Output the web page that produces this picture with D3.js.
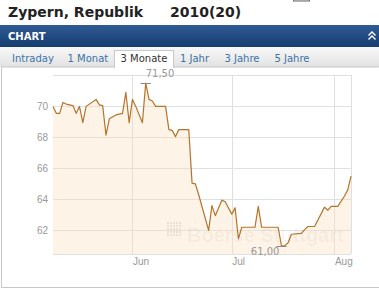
<!DOCTYPE html>
<html>
<head>
<meta charset="utf-8">
<script src="https://cdn.jsdelivr.net/npm/d3@7"></script>
<style>
  body { margin: 0; background: #fff; }
  svg { display: block; font-family: 'DejaVu Sans', Verdana, sans-serif; }
</style>
</head>
<body>
<div id="chart"></div>
<script>
// Kursdaten (gelesen aus dem Bild)
var dates = ['2010-05-08', '2010-05-09', '2010-05-10', '2010-05-11', '2010-05-12', '2010-05-14',
  '2010-05-15', '2010-05-16', '2010-05-17', '2010-05-18', '2010-05-21', '2010-05-22', '2010-05-23',
  '2010-05-24', '2010-05-25', '2010-05-27', '2010-05-29', '2010-05-30', '2010-05-31', '2010-06-01',
  '2010-06-02', '2010-06-04', '2010-06-05', '2010-06-06', '2010-06-07', '2010-06-08', '2010-06-11',
  '2010-06-12', '2010-06-13', '2010-06-14', '2010-06-15', '2010-06-18', '2010-06-19', '2010-06-20',
  '2010-06-21', '2010-06-24', '2010-06-25', '2010-06-26', '2010-06-28', '2010-06-29', '2010-07-01',
  '2010-07-02', '2010-07-03', '2010-07-04', '2010-07-08', '2010-07-09', '2010-07-10', '2010-07-15',
  '2010-07-16', '2010-07-17', '2010-07-18', '2010-07-19', '2010-07-22', '2010-07-23', '2010-07-24',
  '2010-07-26', '2010-07-29', '2010-07-30', '2010-07-31', '2010-08-02', '2010-08-04', '2010-08-05',
  '2010-08-06'];
var prices = [70.0, 69.55, 69.55, 70.25, 70.15, 70.05,
  69.55, 70.0, 68.95, 70.0, 70.45, 70.1, 70.05,
  68.15, 69.2, 69.45, 69.55, 70.9, 68.95, 70.45,
  70.0, 68.95, 71.5, 70.45, 70.35, 70.0, 70.0,
  68.5, 68.45, 68.05, 68.5, 68.5, 65.05, 65.0,
  64.3, 62.0, 63.6, 62.95, 63.95, 63.85, 63.05,
  63.45, 61.45, 62.2, 62.2, 63.55, 62.2, 62.2,
  61.0, 61.0, 61.2, 61.75, 61.8, 62.05, 62.25,
  62.25, 63.5, 63.3, 63.55, 63.55, 64.2, 64.6,
  65.5];
var yTicks = [62, 64, 66, 68, 70];
var tabs = ['Intraday', '1 Monat', '3 Monate', '1 Jahr', '3 Jahre', '5 Jahre'];
var activeTab = '3 Monate';
var title = 'Zypern, Republik';
var subtitle = '2010(20)';

var width = 379, height = 293;
var plot = { left: 53, right: 351, top: 75, bottom: 254 };

var parse = d3.utcParse('%Y-%m-%d');
var data = dates.map(function(d, i) {
  return { date: parse(d), value: prices[i] };
});

var svg = d3.select('#chart').append('svg')
  .attr('width', width)
  .attr('height', height);

var defs = svg.append('defs');
var gHead = defs.append('linearGradient').attr('id', 'head').attr('x1', 0).attr('x2', 0).attr('y1', 0).attr('y2', 1);
gHead.append('stop').attr('offset', '0%').attr('stop-color', '#2f5b94');
gHead.append('stop').attr('offset', '100%').attr('stop-color', '#163c70');
var gTab = defs.append('linearGradient').attr('id', 'tabbar').attr('x1', 0).attr('x2', 0).attr('y1', 0).attr('y2', 1);
gTab.append('stop').attr('offset', '0%').attr('stop-color', '#f8f8f8');
gTab.append('stop').attr('offset', '100%').attr('stop-color', '#e2e2e2');

// Titel
svg.append('text')
  .attr('x', 8).attr('y', 17)
  .attr('font-size', 14).attr('font-weight', 'bold').attr('fill', '#222')
  .text(title);
svg.append('text')
  .attr('x', 170).attr('y', 17)
  .attr('font-size', 14).attr('font-weight', 'bold').attr('fill', '#222')
  .text(subtitle);
// abgeschnittenes Icon oben rechts
svg.append('rect')
  .attr('x', 293.5).attr('y', -4).attr('width', 16).attr('height', 5)
  .attr('fill', '#e8e8e8').attr('stroke', '#666');

// Kopfzeile CHART
svg.append('rect')
  .attr('x', 0).attr('y', 25).attr('width', width).attr('height', 22)
  .attr('fill', 'url(#head)');
svg.append('text')
  .attr('x', 8).attr('y', 40)
  .attr('font-size', 10).attr('font-weight', 'bold').attr('fill', '#fff')
  .text('CHART');
svg.append('path')
  .attr('d', 'M368.5,35.5L372,32L375.5,35.5M368.5,39.5L372,36L375.5,39.5')
  .attr('fill', 'none').attr('stroke', '#fff').attr('stroke-width', 1.4);

// Reiter
svg.append('rect')
  .attr('x', 0).attr('y', 47).attr('width', width).attr('height', 20)
  .attr('fill', 'url(#tabbar)');

// Panel
svg.append('rect')
  .attr('x', 1.5).attr('y', 67).attr('width', 400).attr('height', 220.5)
  .attr('fill', '#fff').attr('stroke', '#c8c8c8');

var tabX = [12, 67.5, 120.5, 180, 224.5, 274.5];
var tabG = svg.append('g');
tabG.selectAll('rect')
  .data(tabs.filter(function(t) { return t === activeTab; }))
  .enter().append('rect')
  .attr('x', 114.5).attr('y', 50.5).attr('width', 59).attr('height', 17)
  .attr('fill', '#fff').attr('stroke', '#c8c8c8');
tabG.append('rect')
  .attr('x', 115).attr('y', 66).attr('width', 58).attr('height', 2)
  .attr('fill', '#fff');
tabG.selectAll('text')
  .data(tabs)
  .enter().append('text')
  .attr('x', function(d, i) { return tabX[i]; })
  .attr('y', 61.5)
  .attr('font-size', 10)
  .attr('fill', function(d) { return d === activeTab ? '#333' : '#3a73a9'; })
  .text(function(d) { return d; });

// Skalen
var x = d3.scaleTime()
  .domain(d3.extent(data, function(d) { return d.date; }))
  .range([plot.left, plot.right]);
var vMin = d3.min(prices), vMax = d3.max(prices);
var pad = (vMax - vMin) * 0.05;
var y = d3.scaleLinear()
  .domain([vMin - pad, vMax + pad])
  .range([plot.bottom, plot.top]);
var months = x.ticks(d3.utcMonth.every(1));

// Gitter
var grid = svg.append('g').attr('stroke', '#e0e0e0').attr('shape-rendering', 'crispEdges');
grid.selectAll('.hy')
  .data(yTicks)
  .enter().append('line')
  .attr('x1', plot.left).attr('x2', plot.right)
  .attr('y1', function(d) { return Math.round(y(d)) + 0.5; })
  .attr('y2', function(d) { return Math.round(y(d)) + 0.5; });
grid.selectAll('.vx')
  .data(months)
  .enter().append('line')
  .attr('y1', plot.top).attr('y2', plot.bottom)
  .attr('x1', function(d) { return Math.round(x(d)) + 0.5; })
  .attr('x2', function(d) { return Math.round(x(d)) + 0.5; });
grid.append('line').attr('x1', plot.left).attr('x2', plot.right).attr('y1', plot.top + 0.5).attr('y2', plot.top + 0.5);
grid.append('line').attr('x1', plot.left).attr('x2', plot.right).attr('y1', plot.bottom + 0.5).attr('y2', plot.bottom + 0.5);
grid.append('line').attr('x1', plot.right + 0.5).attr('x2', plot.right + 0.5).attr('y1', plot.top).attr('y2', plot.bottom);

// Flaeche + Linie
var area = d3.area()
  .x(function(d) { return x(d.date); })
  .y0(plot.bottom)
  .y1(function(d) { return y(d.value); });
var line = d3.line()
  .x(function(d) { return x(d.date); })
  .y(function(d) { return y(d.value); });

svg.append('path')
  .datum(data)
  .attr('d', area)
  .attr('fill', 'rgb(250,222,186)')
  .attr('fill-opacity', 0.35);

// Wasserzeichen
var wm = svg.append('g').attr('fill', '#000');
var dots = d3.range(25);
wm.selectAll('rect')
  .data(dots)
  .enter().append('rect')
  .attr('x', function(d) { return 167 + (d % 5) * 3; })
  .attr('y', function(d) { return 222 + Math.floor(d / 5) * 3; })
  .attr('width', 2).attr('height', 2)
  .attr('fill-opacity', 0.07);
wm.append('text')
  .attr('x', 187).attr('y', 242)
  .attr('font-family', 'Liberation Sans, Arial, sans-serif')
  .attr('font-size', 20).attr('font-weight', 'bold')
  .attr('fill-opacity', 0.045)
  .text('Boerse Stuttgart');

svg.append('path')
  .datum(data)
  .attr('d', line)
  .attr('fill', 'none')
  .attr('stroke', '#b5742c')
  .attr('stroke-width', 1.2)
  .attr('stroke-linejoin', 'round');

// Achsen
var yAxis = svg.append('g')
  .attr('transform', 'translate(' + plot.left + ',0)')
  .call(d3.axisLeft(y).tickValues(yTicks).tickSize(0).tickPadding(5).tickFormat(d3.format('d')));
yAxis.select('.domain').remove();
yAxis.selectAll('text').attr('fill', '#999').attr('font-size', 10).attr('font-family', null);

var xAxis = svg.append('g')
  .attr('transform', 'translate(0,' + plot.bottom + ')')
  .call(d3.axisBottom(x).tickValues(months).tickSize(0).tickPadding(4).tickFormat(d3.utcFormat('%b')));
xAxis.select('.domain').remove();
xAxis.selectAll('text').attr('fill', '#999').attr('font-size', 10).attr('font-family', null)
  .attr('text-anchor', 'start');

// Hoch / Tief
var fmt = function(v) { return v.toFixed(2).replace('.', ','); };
var hi = data[d3.maxIndex(data, function(d) { return d.value; })];
var lo = data[d3.minIndex(data, function(d) { return d.value; })];
var marks = svg.append('g');
[hi, lo].forEach(function(d) {
  marks.append('line')
    .attr('x1', x(d.date) - 5).attr('x2', x(d.date) + 5)
    .attr('y1', Math.round(y(d.value)) + 0.5).attr('y2', Math.round(y(d.value)) + 0.5)
    .attr('stroke', '#888');
});
marks.append('text')
  .attr('x', x(hi.date)).attr('y', y(hi.value) - 6)
  .attr('font-size', 10).attr('fill', '#999')
  .text(fmt(hi.value));
marks.append('text')
  .attr('x', x(lo.date) - 2).attr('y', y(lo.value) + 9)
  .attr('text-anchor', 'end')
  .attr('font-size', 10).attr('fill', '#999')
  .text(fmt(lo.value));
</script>
</body>
</html>
